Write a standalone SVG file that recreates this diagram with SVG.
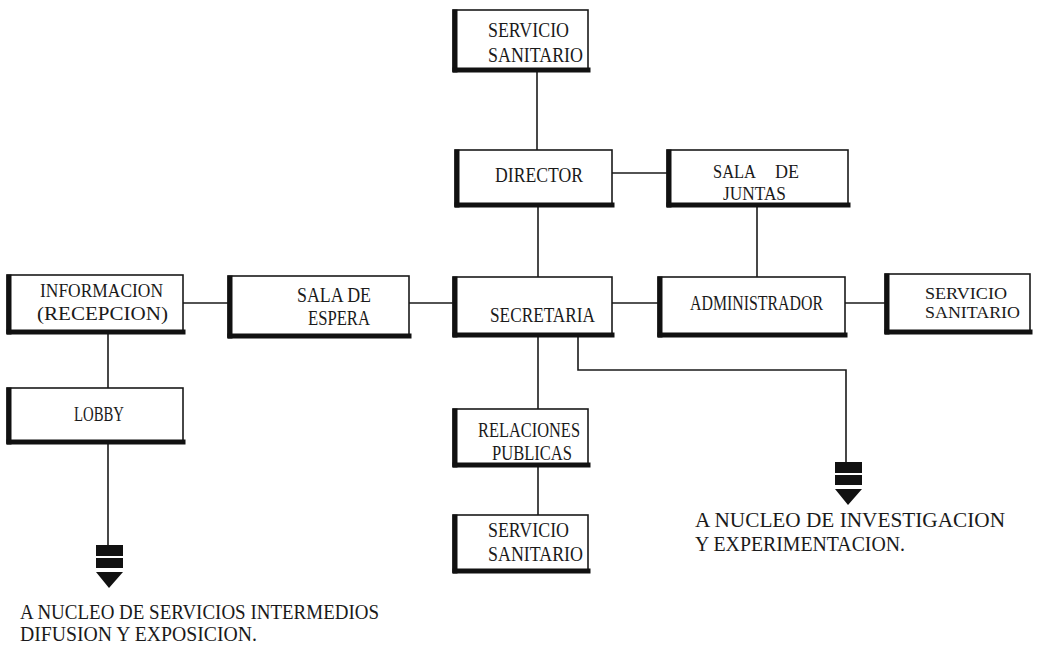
<svg xmlns="http://www.w3.org/2000/svg" width="1062" height="647" viewBox="0 0 1062 647">
<style>
.box rect{fill:#fff;stroke:#1a1a1a;stroke-width:1.6}
.box .tk{stroke:#111;stroke-width:5;stroke-linecap:square}
text{font-family:"Liberation Serif","Times New Roman",serif;font-size:20px;fill:#1a1a1a}
.sm{font-size:17px}
.md{font-size:19px}
#connectors line,#connectors polyline{stroke:#1a1a1a;stroke-width:1.6;fill:none}
.hat{fill:#111}
</style>
<defs>
<g id="arw">
<rect class="hat" x="-13" y="0" width="27" height="11"/>
<rect class="hat" x="-13" y="13" width="27" height="10"/>
<polygon class="hat" points="-13,27 14,27 0,43"/>
</g>
</defs>
<g id="connectors">
<line x1="537" y1="71" x2="537" y2="150"/>
<line x1="612" y1="173" x2="667" y2="173"/>
<line x1="538" y1="206" x2="538" y2="277"/>
<line x1="757" y1="206" x2="757" y2="277"/>
<line x1="183" y1="303" x2="228" y2="303"/>
<line x1="409" y1="303" x2="453" y2="303"/>
<line x1="612" y1="303" x2="658" y2="303"/>
<line x1="845" y1="303" x2="885" y2="303"/>
<line x1="108" y1="333" x2="108" y2="388"/>
<line x1="108" y1="443" x2="108" y2="545"/>
<line x1="538" y1="336" x2="538" y2="409"/>
<line x1="538" y1="466" x2="538" y2="515"/>
<polyline points="578,336 578,370 846,370 846,462"/>
<use href="#arw" x="848" y="462"/>
<use href="#arw" x="109" y="545"/>
</g>
<g id="n1" class="box"><rect x="453" y="10" width="135" height="61"/><line class="tk" x1="455" y1="12" x2="455" y2="70"/><line class="tk" x1="455" y1="70" x2="588" y2="70"/>
<text x="488" y="37" textLength="81" lengthAdjust="spacingAndGlyphs">SERVICIO</text><text x="488" y="62" textLength="95" lengthAdjust="spacingAndGlyphs">SANITARIO</text></g>
<g id="n2" class="box"><rect x="455" y="150" width="157" height="56"/><line class="tk" x1="457" y1="152" x2="457" y2="205"/><line class="tk" x1="457" y1="205" x2="612" y2="205"/>
<text x="495" y="182" textLength="88" lengthAdjust="spacingAndGlyphs">DIRECTOR</text></g>
<g id="n3" class="box"><rect x="667" y="150" width="181" height="56"/><line class="tk" x1="669" y1="152" x2="669" y2="205"/><line class="tk" x1="669" y1="205" x2="848" y2="205"/>
<text class="md" x="713" y="178" textLength="43" lengthAdjust="spacingAndGlyphs">SALA</text><text class="md" x="775" y="178" textLength="24" lengthAdjust="spacingAndGlyphs">DE</text><text class="md" x="723" y="200" textLength="63" lengthAdjust="spacingAndGlyphs">JUNTAS</text></g>
<g id="n4" class="box"><rect x="7" y="275" width="176" height="58"/><line class="tk" x1="9" y1="277" x2="9" y2="332"/><line class="tk" x1="9" y1="332" x2="183" y2="332"/>
<text class="md" x="40" y="297" textLength="123" lengthAdjust="spacingAndGlyphs">INFORMACION</text><text class="md" x="37" y="320" textLength="131" lengthAdjust="spacingAndGlyphs">(RECEPCION)</text></g>
<g id="n5" class="box"><rect x="228" y="276" width="181" height="61"/><line class="tk" x1="230" y1="278" x2="230" y2="336"/><line class="tk" x1="230" y1="336" x2="409" y2="336"/>
<text x="297" y="302" textLength="74" lengthAdjust="spacingAndGlyphs">SALA DE</text><text x="308" y="325" textLength="62" lengthAdjust="spacingAndGlyphs">ESPERA</text></g>
<g id="n6" class="box"><rect x="453" y="277" width="159" height="59"/><line class="tk" x1="455" y1="279" x2="455" y2="335"/><line class="tk" x1="455" y1="335" x2="612" y2="335"/>
<text x="490" y="322" textLength="105" lengthAdjust="spacingAndGlyphs">SECRETARIA</text></g>
<g id="n7" class="box"><rect x="658" y="277" width="187" height="59"/><line class="tk" x1="660" y1="279" x2="660" y2="335"/><line class="tk" x1="660" y1="335" x2="845" y2="335"/>
<text x="690" y="310" textLength="133" lengthAdjust="spacingAndGlyphs">ADMINISTRADOR</text></g>
<g id="n8" class="box"><rect x="885" y="274" width="145" height="59"/><line class="tk" x1="887" y1="276" x2="887" y2="332"/><line class="tk" x1="887" y1="332" x2="1030" y2="332"/>
<text class="sm" x="925" y="299" textLength="82" lengthAdjust="spacingAndGlyphs">SERVICIO</text><text class="sm" x="925" y="318" textLength="95" lengthAdjust="spacingAndGlyphs">SANITARIO</text></g>
<g id="n9" class="box"><rect x="7" y="388" width="176" height="55"/><line class="tk" x1="9" y1="390" x2="9" y2="442"/><line class="tk" x1="9" y1="442" x2="183" y2="442"/>
<text x="74" y="421" textLength="50" lengthAdjust="spacingAndGlyphs">LOBBY</text></g>
<g id="n10" class="box"><rect x="453" y="409" width="135" height="57"/><line class="tk" x1="455" y1="411" x2="455" y2="465"/><line class="tk" x1="455" y1="465" x2="588" y2="465"/>
<text x="478" y="437" textLength="102" lengthAdjust="spacingAndGlyphs">RELACIONES</text><text x="492" y="460" textLength="80" lengthAdjust="spacingAndGlyphs">PUBLICAS</text></g>
<g id="n11" class="box"><rect x="453" y="515" width="135" height="57"/><line class="tk" x1="455" y1="517" x2="455" y2="571"/><line class="tk" x1="455" y1="571" x2="588" y2="571"/>
<text x="488" y="537" textLength="81" lengthAdjust="spacingAndGlyphs">SERVICIO</text><text x="488" y="561" textLength="95" lengthAdjust="spacingAndGlyphs">SANITARIO</text></g>
<g id="labels">
<text x="695" y="527" textLength="310" lengthAdjust="spacingAndGlyphs">A NUCLEO DE INVESTIGACION</text>
<text x="695" y="551" textLength="210" lengthAdjust="spacingAndGlyphs">Y EXPERIMENTACION.</text>
<text x="20" y="619" textLength="359" lengthAdjust="spacingAndGlyphs">A NUCLEO DE SERVICIOS INTERMEDIOS</text>
<text x="20" y="641" textLength="237" lengthAdjust="spacingAndGlyphs">DIFUSION Y EXPOSICION.</text>
</g>
</svg>
